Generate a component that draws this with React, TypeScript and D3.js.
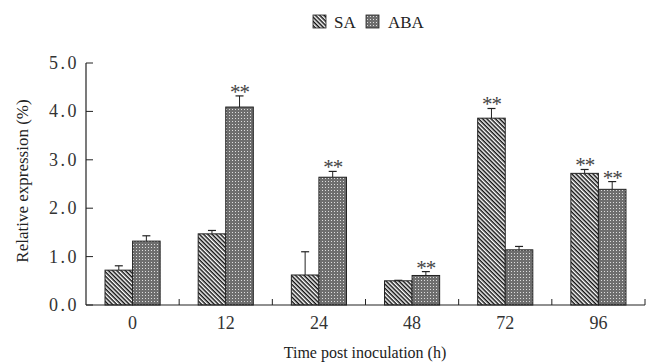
import React from "react";
import * as d3 from "d3";

const categories = ["0", "12", "24", "48", "72", "96"];
const seriesNames = ["SA", "ABA"];
const saValues = [0.72, 1.47, 0.62, 0.5, 3.86, 2.72];
const abaValues = [1.32, 4.09, 2.64, 0.61, 1.14, 2.39];
const saErrors = [0.09, 0.07, 0.48, 0.01, 0.2, 0.08];
const abaErrors = [0.11, 0.23, 0.12, 0.08, 0.07, 0.16];
const saSig = [false, false, false, false, true, true];
const abaSig = [false, true, true, true, false, true];
const yTicks = [0, 1, 2, 3, 4, 5];

const W = 650;
const H = 364;
const margin = { left: 86, right: 5, top: 63, bottom: 59 };

export default function App() {
  const x = d3
    .scaleBand<string>()
    .domain(categories)
    .range([margin.left, W - margin.right])
    .paddingInner(0)
    .paddingOuter(0);
  const y = d3.scaleLinear().domain([0, 5]).range([H - margin.bottom, margin.top]);
  const inner = d3
    .scaleBand<string>()
    .domain(seriesNames)
    .range([0, x.bandwidth()])
    .paddingInner(0)
    .paddingOuter(0.69);

  const series = [
    { name: "SA", values: saValues, errors: saErrors, sig: saSig, fill: "url(#hatch)" },
    { name: "ABA", values: abaValues, errors: abaErrors, sig: abaSig, fill: "url(#dots)" },
  ];
  const serif = "'Liberation Serif', 'DejaVu Serif', serif";
  const y0 = y(0);

  return (
    <svg width={W} height={H} style={{ position: "absolute", left: 0, top: 0, background: "#fff" }}>
      <defs>
        <pattern id="hatch" patternUnits="userSpaceOnUse" width="3" height="3" patternTransform="rotate(45)">
          <rect width="3" height="3" fill="#fff" />
          <rect x="0" y="0" width="3" height="1.5" fill="#111" />
        </pattern>
        <pattern id="dots" patternUnits="userSpaceOnUse" width="3" height="3">
          <rect width="3" height="3" fill="#6e6e6e" />
          <rect x="1" y="1" width="1" height="1" fill="#dddddd" />
        </pattern>
      </defs>

      {/* legend */}
      <g>
        <rect x={313} y={15} width={13} height={13} fill="url(#hatch)" stroke="#222" strokeWidth={0.8} />
        <text x={334} y={28} fontFamily={serif} fontSize={17} fill="#222">SA</text>
        <rect x={366} y={15} width={13} height={13} fill="url(#dots)" stroke="#222" strokeWidth={0.8} />
        <text x={388} y={28} fontFamily={serif} fontSize={17} fill="#222">ABA</text>
      </g>

      {/* bars */}
      {series.map((s) => (
        <g key={s.name}>
          {categories.map((c, i) => {
            const bx = (x(c) as number) + (inner(s.name) as number);
            const bw = inner.bandwidth();
            const top = y(s.values[i]);
            const et = y(s.values[i] + s.errors[i]);
            const cx = bx + bw / 2;
            return (
              <g key={c}>
                <line x1={cx} x2={cx} y1={top} y2={et} stroke="#222" strokeWidth={1} />
                <line x1={cx - 4} x2={cx + 4} y1={et} y2={et} stroke="#222" strokeWidth={1.2} />
                <rect x={bx} y={top} width={bw} height={y0 - top} fill={s.fill} stroke="#222" strokeWidth={1} />
                {s.sig[i] && (
                  <text
                    x={cx}
                    y={et + 3}
                    textAnchor="middle"
                    fontFamily={serif}
                    fontSize={21}
                    letterSpacing={-1}
                    fill="#444"
                  >
                    **
                  </text>
                )}
              </g>
            );
          })}
        </g>
      ))}

      {/* y axis */}
      <line x1={margin.left} x2={margin.left} y1={margin.top} y2={y0} stroke="#222" strokeWidth={1.2} />
      {yTicks.map((t) => (
        <g key={t}>
          <line x1={margin.left} x2={margin.left + 7} y1={y(t)} y2={y(t)} stroke="#222" strokeWidth={1} />
          <text
            x={margin.left - 7}
            y={y(t) + 6}
            textAnchor="end"
            fontFamily={serif}
            fontSize={18}
            letterSpacing={2.5}
            fill="#333"
          >
            {t.toFixed(1)}
          </text>
        </g>
      ))}

      {/* x axis */}
      <line x1={margin.left} x2={W - margin.right} y1={y0} y2={y0} stroke="#222" strokeWidth={1.2} />
      {categories.map((c) => (
        <g key={c}>
          <line
            x1={(x(c) as number) + x.bandwidth()}
            x2={(x(c) as number) + x.bandwidth()}
            y1={y0}
            y2={y0 - 6}
            stroke="#222"
            strokeWidth={1}
          />
          <text
            x={(x(c) as number) + x.bandwidth() / 2}
            y={y0 + 24}
            textAnchor="middle"
            fontFamily={serif}
            fontSize={18}
            fill="#333"
          >
            {c}
          </text>
        </g>
      ))}

      <text x={365} y={358} textAnchor="middle" fontFamily={serif} fontSize={16} fill="#222">
        Time post inoculation (h)
      </text>
      <text
        transform={`translate(28,181) rotate(-90)`}
        textAnchor="middle"
        fontFamily={serif}
        fontSize={17}
        fill="#222"
      >
        Relative expression (%)
      </text>
    </svg>
  );
}
